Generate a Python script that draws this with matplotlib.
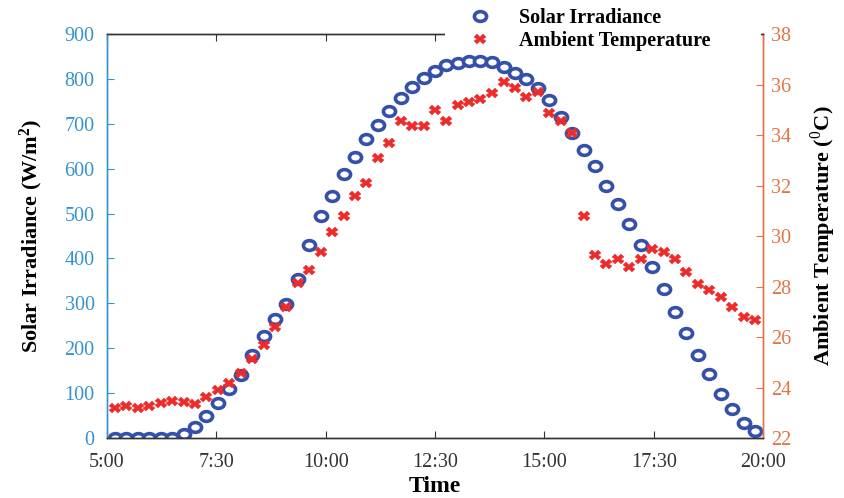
import numpy as np
import matplotlib
matplotlib.use('Agg')
import matplotlib.pyplot as plt
from matplotlib.markers import MarkerStyle
from matplotlib.transforms import Affine2D
from matplotlib.patches import Rectangle

plt.rcParams['font.family'] = ['Liberation Serif', 'DejaVu Serif']
plt.rcParams['mathtext.fontset'] = 'custom'
plt.rcParams['mathtext.rm'] = 'Liberation Serif'
plt.rcParams['mathtext.bf'] = 'Liberation Serif:bold'

# time of day (hours) for each sample
time_h = [5.18, 5.44, 5.70, 5.96, 6.23, 6.49, 6.75, 7.01, 7.27, 7.53,
          7.79, 8.06, 8.32, 8.58, 8.84, 9.10, 9.36, 9.62, 9.89, 10.15,
          10.41, 10.67, 10.93, 11.19, 11.45, 11.72, 11.98, 12.24, 12.50, 12.76,
          13.02, 13.28, 13.54, 13.81, 14.07, 14.33, 14.59, 14.85, 15.11, 15.37,
          15.64, 15.90, 16.16, 16.42, 16.68, 16.94, 17.20, 17.47, 17.73, 17.99,
          18.25, 18.51, 18.77, 19.03, 19.30, 19.56, 19.82]

irradiance = [0, 0, 0, 0, 0, 0, 10, 25, 50, 78,
              110, 141, 185, 228, 264, 298, 354, 430, 495, 540,
              588, 627, 667, 697, 729, 758, 783, 801, 817, 831,
              835, 839, 839, 837, 827, 813, 800, 780, 753, 716,
              679, 641, 605, 561, 521, 477, 430, 380, 333, 281,
              233, 185, 142, 99, 64, 34, 16]

temperature = [23.18, 23.27, 23.18, 23.27, 23.37, 23.47, 23.44, 23.35, 23.64, 23.90,
               24.17, 24.56, 25.12, 25.68, 26.38, 27.18, 28.12, 28.66, 29.36, 30.17,
               30.79, 31.58, 32.09, 33.08, 33.70, 34.57, 34.36, 34.36, 34.99, 34.57,
               35.19, 35.32, 35.41, 35.68, 36.11, 35.85, 35.52, 35.72, 34.86, 34.57,
               34.07, 30.79, 29.25, 28.90, 29.10, 28.76, 29.10, 29.50, 29.36, 29.10,
               28.57, 28.10, 27.87, 27.60, 27.18, 26.80, 26.68]

xticks = [5, 7.5, 10, 12.5, 15, 17.5, 20]
xticklabels = ['5:00', '7:30', '10:00', '12:30', '15:00', '17:30', '20:00']

left_c = '#3592d0'
right_c = '#e07646'
blue = '#3550a8'
red = '#ee2b2b'

fig = plt.figure(figsize=(8.44, 4.98), dpi=100)
ax1 = fig.add_axes([107/844, 1-438/498, (763-107)/844, (438-34)/498])
ax2 = ax1.twinx()

stretch = Affine2D().scale(1.25, 1.0)
circ = MarkerStyle('o', transform=stretch)
cross = MarkerStyle('X', transform=stretch)

h1, = ax1.plot(time_h, irradiance, linestyle='none', marker=circ, ms=7,
               mfc='white', mec=blue, mew=2.6, label='Solar Irradiance')
h2, = ax2.plot(time_h, temperature, linestyle='none', marker=cross, ms=7,
               color=red, mec=red, mew=0.3, label='Ambient Temperature')

ax1.set_xlim(5, 20)
ax1.set_ylim(0, 900)
ax1.set_yticks(np.arange(0, 901, 100))
ax2.set_ylim(22, 38)
ax2.set_yticks(np.arange(22, 39, 2))
ax1.set_xticks(xticks)
ax1.set_xticklabels(xticklabels)

ax1.tick_params(axis='x', direction='in', length=5, colors='#333333',
                labelsize=14.5, top=True, pad=11)
ax1.tick_params(axis='y', direction='in', length=5, colors=left_c,
                labelsize=14.5, pad=9)
ax2.tick_params(axis='y', direction='in', length=5, colors=right_c,
                labelsize=14.5, pad=6)

for ax in (ax1, ax2):
    ax.spines['top'].set_color('#333333')
    ax.spines['bottom'].set_color('#333333')
    ax.spines['left'].set_color(left_c)
    ax.spines['right'].set_color(right_c)
    for s in ax.spines.values():
        s.set_linewidth(1.0)

ax1.set_xlabel('Time', fontsize=17, fontweight='bold', labelpad=3)
ax1.set_ylabel(r'Solar Irradiance (W/m$\mathbf{^2}$)', fontsize=16,
               fontweight='bold', color='black', labelpad=14)
ax2.set_ylabel(r'Ambient Temperature ($^{0}$C)', fontsize=16,
               fontweight='bold', color='black', labelpad=12)

# white legend box hides the top frame behind it
fig.patches.append(Rectangle((445/844, 1-46/498), (761-445)/844, 46/498,
                             transform=fig.transFigure, facecolor='white',
                             edgecolor='none', zorder=2))

leg = fig.legend(handles=[h1, h2], loc='upper left',
                 bbox_to_anchor=(451/844, 1-3/498),
                 frameon=False, prop={'size': 14.5, 'weight': 'bold'},
                 handlelength=2.4, handletextpad=0.75, labelspacing=0.15,
                 borderpad=0.25, borderaxespad=0)
leg.set_zorder(3)

fig.savefig('out.png', dpi=100)
